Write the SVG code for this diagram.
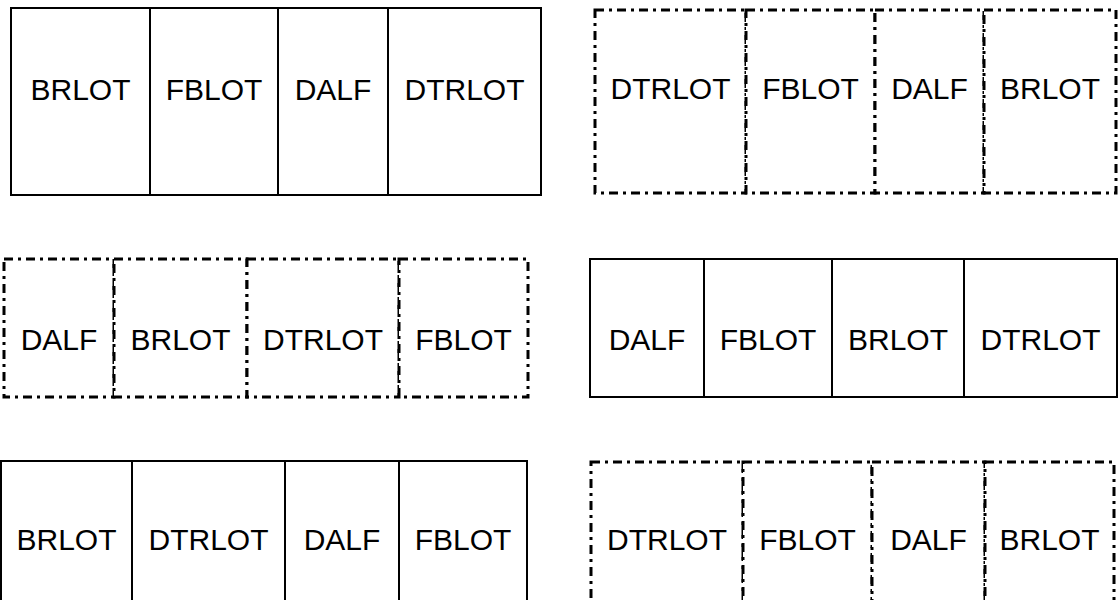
<svg xmlns="http://www.w3.org/2000/svg" width="1118" height="600" viewBox="0 0 1118 600">
  <style>
    .cell { fill: #ffffff; stroke: #000000; stroke-width: 2; }
    .dash { stroke-width: 3; stroke-dasharray: 9 5 3 5; }
    .lbl { font-family: "Liberation Sans", Arial, sans-serif; font-size: 30px; fill: #000000; text-anchor: middle; }
  </style>
  <rect width="1118" height="600" fill="#ffffff"/>

  <!-- Row 1, left: solid -->
  <g id="row1-left">
    <g id="r1l-c1"><rect class="cell" x="11" y="8" width="139" height="187"/><text class="lbl" x="80.5" y="100">BRLOT</text></g>
    <g id="r1l-c2"><rect class="cell" x="150" y="8" width="128" height="187"/><text class="lbl" x="214" y="100">FBLOT</text></g>
    <g id="r1l-c3"><rect class="cell" x="278" y="8" width="110" height="187"/><text class="lbl" x="333" y="100">DALF</text></g>
    <g id="r1l-c4"><rect class="cell" x="388" y="8" width="153" height="187"/><text class="lbl" x="464.5" y="100">DTRLOT</text></g>
  </g>

  <!-- Row 1, right: dash-dot -->
  <g id="row1-right">
    <g id="r1r-c1"><rect class="cell dash" x="595" y="10" width="151" height="183"/><text class="lbl" x="670.5" y="99">DTRLOT</text></g>
    <g id="r1r-c2"><rect class="cell dash" x="746" y="10" width="129" height="183"/><text class="lbl" x="810.5" y="99">FBLOT</text></g>
    <g id="r1r-c3"><rect class="cell dash" x="875" y="10" width="109" height="183"/><text class="lbl" x="929.5" y="99">DALF</text></g>
    <g id="r1r-c4"><rect class="cell dash" x="984" y="10" width="132" height="183"/><text class="lbl" x="1050" y="99">BRLOT</text></g>
  </g>

  <!-- Row 2, left: dash-dot -->
  <g id="row2-left">
    <g id="r2l-c1"><rect class="cell dash" x="4" y="259" width="110" height="138"/><text class="lbl" x="59" y="350">DALF</text></g>
    <g id="r2l-c2"><rect class="cell dash" x="114" y="259" width="133" height="138"/><text class="lbl" x="180.5" y="350">BRLOT</text></g>
    <g id="r2l-c3"><rect class="cell dash" x="247" y="259" width="152" height="138"/><text class="lbl" x="323" y="350">DTRLOT</text></g>
    <g id="r2l-c4"><rect class="cell dash" x="399" y="259" width="129" height="138"/><text class="lbl" x="463.5" y="350">FBLOT</text></g>
  </g>

  <!-- Row 2, right: solid -->
  <g id="row2-right">
    <g id="r2r-c1"><rect class="cell" x="590" y="259" width="114" height="138"/><text class="lbl" x="647" y="350">DALF</text></g>
    <g id="r2r-c2"><rect class="cell" x="704" y="259" width="128" height="138"/><text class="lbl" x="768" y="350">FBLOT</text></g>
    <g id="r2r-c3"><rect class="cell" x="832" y="259" width="132" height="138"/><text class="lbl" x="898" y="350">BRLOT</text></g>
    <g id="r2r-c4"><rect class="cell" x="964" y="259" width="153" height="138"/><text class="lbl" x="1040.5" y="350">DTRLOT</text></g>
  </g>

  <!-- Row 3, left: solid (runs past the bottom edge) -->
  <g id="row3-left">
    <g id="r3l-c1"><rect class="cell" x="1" y="461" width="131" height="180"/><text class="lbl" x="66.5" y="550">BRLOT</text></g>
    <g id="r3l-c2"><rect class="cell" x="132" y="461" width="153" height="180"/><text class="lbl" x="208.5" y="550">DTRLOT</text></g>
    <g id="r3l-c3"><rect class="cell" x="285" y="461" width="114" height="180"/><text class="lbl" x="342" y="550">DALF</text></g>
    <g id="r3l-c4"><rect class="cell" x="399" y="461" width="128" height="180"/><text class="lbl" x="463" y="550">FBLOT</text></g>
  </g>

  <!-- Row 3, right: dash-dot (runs past the bottom edge) -->
  <g id="row3-right">
    <g id="r3r-c1"><rect class="cell dash" x="591" y="462" width="152" height="180"/><text class="lbl" x="667" y="550">DTRLOT</text></g>
    <g id="r3r-c2"><rect class="cell dash" x="743" y="462" width="129" height="180"/><text class="lbl" x="807.5" y="550">FBLOT</text></g>
    <g id="r3r-c3"><rect class="cell dash" x="872" y="462" width="113" height="180"/><text class="lbl" x="928.5" y="550">DALF</text></g>
    <g id="r3r-c4"><rect class="cell dash" x="985" y="462" width="129" height="180"/><text class="lbl" x="1049.5" y="550">BRLOT</text></g>
  </g>

  <g id="connectors"/>
</svg>
